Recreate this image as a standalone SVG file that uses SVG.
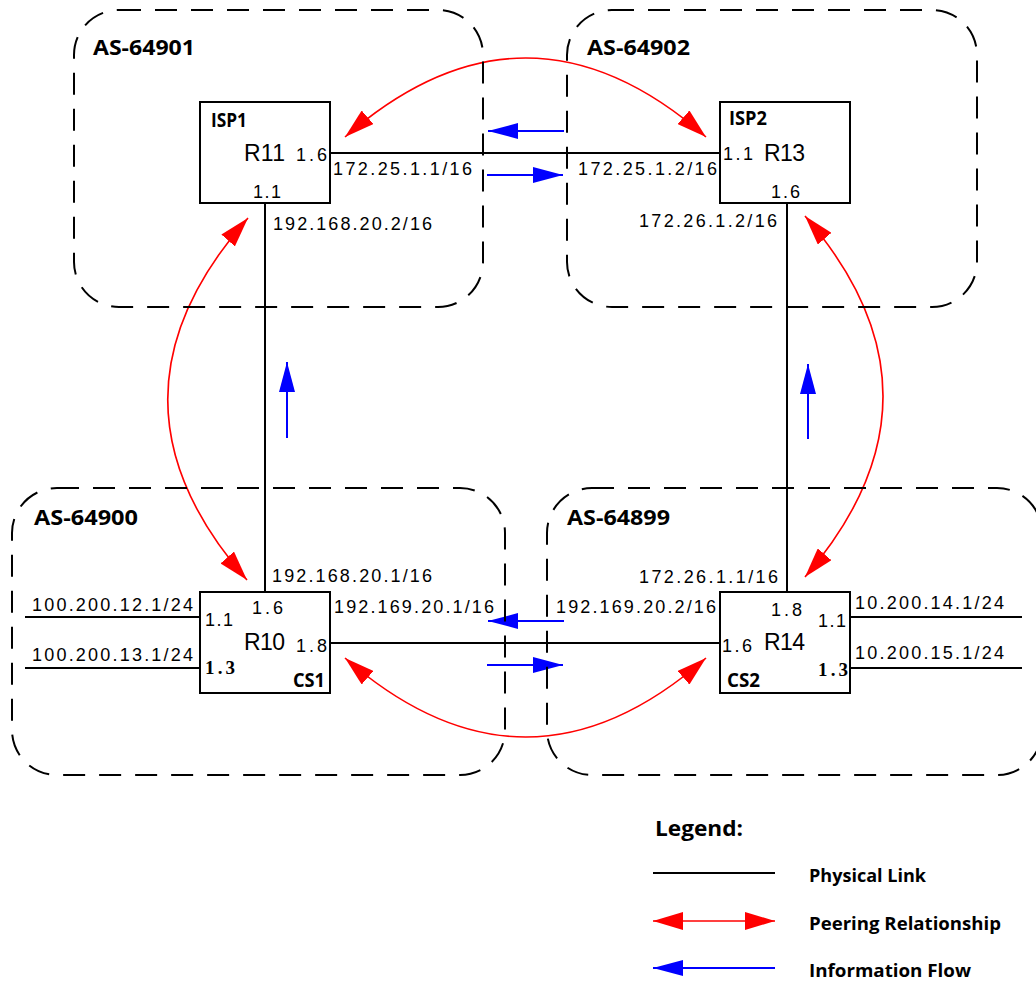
<svg xmlns="http://www.w3.org/2000/svg" width="1036" height="984" viewBox="0 0 1036 984">
<style>
.region{fill:none;stroke:#000;stroke-width:2;stroke-dasharray:22 14}
.box{fill:#fff;stroke:#000;stroke-width:2}
.link{fill:none;stroke:#000;stroke-width:2}
.peer{fill:none;stroke:#f00;stroke-width:1.6}
.flow{fill:none;stroke:#00f;stroke-width:2}
.lbl{font-family:"Liberation Sans",Arial,sans-serif;font-size:18px;fill:#000}
.rn{font-family:"Liberation Sans",Arial,sans-serif;font-size:23px;fill:#000}
.b{font-family:"Open Sans","DejaVu Sans",sans-serif;font-weight:700;fill:#000}
.srf{font-family:"Liberation Serif","Times New Roman",serif;font-weight:700;font-size:19px;fill:#000}
</style>
<defs>
<marker id="rh" viewBox="0 0 30 18" refX="30" refY="9" markerWidth="30" markerHeight="18" markerUnits="userSpaceOnUse" orient="auto-start-reverse"><path d="M0,0 L30,9 L0,18 z" fill="#f00"/></marker>
<marker id="bh" viewBox="0 0 30 16" refX="30" refY="8" markerWidth="30" markerHeight="16" markerUnits="userSpaceOnUse" orient="auto-start-reverse"><path d="M0,0 L30,8 L0,16 z" fill="#00f"/></marker>
</defs>
<rect width="1036" height="984" fill="#fff"/>

<g id="connectors">
<line class="link" x1="330" y1="153" x2="720" y2="153"/>
<line class="link" x1="265" y1="203" x2="265" y2="592"/>
<line class="link" x1="787" y1="203" x2="787" y2="592"/>
<line class="link" x1="330" y1="643" x2="720" y2="643"/>
<line class="link" x1="25" y1="617" x2="200" y2="617"/>
<line class="link" x1="25" y1="668" x2="200" y2="668"/>
<line class="link" x1="850" y1="617" x2="1022" y2="617"/>
<line class="link" x1="850" y1="668" x2="1022" y2="668"/>
<path class="peer" d="M345,137 Q526,-21 706,137" marker-start="url(#rh)" marker-end="url(#rh)"/>
<path class="peer" d="M248,218 Q88,399 247,580" marker-start="url(#rh)" marker-end="url(#rh)"/>
<path class="peer" d="M805,216 Q961,396 805,577" marker-start="url(#rh)" marker-end="url(#rh)"/>
<path class="peer" d="M345,658 Q526,816 706,658" marker-start="url(#rh)" marker-end="url(#rh)"/>
<line class="flow" x1="564" y1="131" x2="488" y2="131" marker-end="url(#bh)"/>
<line class="flow" x1="487" y1="175" x2="563" y2="175" marker-end="url(#bh)"/>
<line class="flow" x1="564" y1="621" x2="488" y2="621" marker-end="url(#bh)"/>
<line class="flow" x1="487" y1="665" x2="563" y2="665" marker-end="url(#bh)"/>
<line class="flow" x1="287" y1="438" x2="287" y2="362" marker-end="url(#bh)"/>
<line class="flow" x1="808" y1="439" x2="808" y2="364" marker-end="url(#bh)"/>
<text class="lbl" x="333" y="175" textLength="139" lengthAdjust="spacing">172.25.1.1/16</text>
<text class="lbl" x="578" y="175" textLength="139" lengthAdjust="spacing">172.25.1.2/16</text>
<text class="lbl" x="273" y="230" textLength="159" lengthAdjust="spacing">192.168.20.2/16</text>
<text class="lbl" x="639" y="227" textLength="138" lengthAdjust="spacing">172.26.1.2/16</text>
<text class="lbl" x="272" y="582" textLength="160" lengthAdjust="spacing">192.168.20.1/16</text>
<text class="lbl" x="334" y="613" textLength="160" lengthAdjust="spacing">192.169.20.1/16</text>
<text class="lbl" x="639" y="583" textLength="139" lengthAdjust="spacing">172.26.1.1/16</text>
<text class="lbl" x="556" y="613" textLength="160" lengthAdjust="spacing">192.169.20.2/16</text>
<text class="lbl" x="32" y="611" textLength="161" lengthAdjust="spacing">100.200.12.1/24</text>
<text class="lbl" x="32" y="661" textLength="161" lengthAdjust="spacing">100.200.13.1/24</text>
<text class="lbl" x="855" y="609" textLength="149" lengthAdjust="spacing">10.200.14.1/24</text>
<text class="lbl" x="855" y="659" textLength="149" lengthAdjust="spacing">10.200.15.1/24</text>
</g>

<g id="R11">
<rect class="box" x="200" y="102" width="130" height="101"/>
<text class="b" x="211" y="127" font-size="20" textLength="36" lengthAdjust="spacingAndGlyphs">ISP1</text>
<text class="rn" x="244" y="161" textLength="41" lengthAdjust="spacing">R11</text>
<text class="lbl" x="296" y="161" textLength="31" lengthAdjust="spacing">1.6</text>
<text class="lbl" x="253" y="198" textLength="28" lengthAdjust="spacing">1.1</text>
</g>

<g id="R13">
<rect class="box" x="720" y="102" width="130" height="101"/>
<text class="b" x="729" y="125" font-size="20" textLength="38" lengthAdjust="spacingAndGlyphs">ISP2</text>
<text class="lbl" x="723" y="160" textLength="30" lengthAdjust="spacing">1.1</text>
<text class="rn" x="764" y="161" textLength="41" lengthAdjust="spacing">R13</text>
<text class="lbl" x="771" y="198" textLength="29" lengthAdjust="spacing">1.6</text>
</g>

<g id="R10">
<rect class="box" x="200" y="592" width="130" height="101"/>
<text class="lbl" x="252" y="614" textLength="31" lengthAdjust="spacing">1.6</text>
<text class="lbl" x="205" y="626" textLength="28" lengthAdjust="spacing">1.1</text>
<text class="rn" x="244" y="650" textLength="41" lengthAdjust="spacing">R10</text>
<text class="lbl" x="296" y="652" textLength="31" lengthAdjust="spacing">1.8</text>
<text class="srf" x="205" y="674" textLength="30" lengthAdjust="spacing">1.3</text>
<text class="b" x="293" y="687" font-size="19" textLength="32" lengthAdjust="spacingAndGlyphs">CS1</text>
</g>

<g id="R14">
<rect class="box" x="720" y="592" width="130" height="101"/>
<text class="lbl" x="771" y="616" textLength="31" lengthAdjust="spacing">1.8</text>
<text class="lbl" x="818" y="627" textLength="28" lengthAdjust="spacing">1.1</text>
<text class="lbl" x="722" y="652" textLength="30" lengthAdjust="spacing">1.6</text>
<text class="rn" x="764" y="650" textLength="41" lengthAdjust="spacing">R14</text>
<text class="srf" x="818" y="676" textLength="30" lengthAdjust="spacing">1.3</text>
<text class="b" x="727" y="687" font-size="19" textLength="33" lengthAdjust="spacingAndGlyphs">CS2</text>
</g>

<g id="AS-64901">
<rect class="region" x="74" y="10" width="409" height="297" rx="45" ry="45"/>
<text class="b" x="93" y="55" font-size="22" textLength="102" lengthAdjust="spacingAndGlyphs">AS-64901</text>
</g>
<g id="AS-64902">
<rect class="region" x="567" y="10" width="410" height="297" rx="45" ry="45"/>
<text class="b" x="587" y="55" font-size="22" textLength="103" lengthAdjust="spacingAndGlyphs">AS-64902</text>
</g>
<g id="AS-64900">
<rect class="region" x="12" y="488" width="493" height="287" rx="45" ry="45"/>
<text class="b" x="34" y="525" font-size="22" textLength="104" lengthAdjust="spacingAndGlyphs">AS-64900</text>
</g>
<g id="AS-64899">
<rect class="region" x="547" y="488" width="495" height="287" rx="45" ry="45"/>
<text class="b" x="567" y="525" font-size="22" textLength="103" lengthAdjust="spacingAndGlyphs">AS-64899</text>
</g>

<g id="legend">
<text class="b" x="655" y="836" font-size="21" textLength="88" lengthAdjust="spacingAndGlyphs">Legend:</text>
<line class="link" x1="653" y1="873" x2="775" y2="873"/>
<text class="b" x="809" y="882" font-size="18" textLength="117" lengthAdjust="spacingAndGlyphs">Physical Link</text>
<line class="peer" x1="653" y1="921" x2="775" y2="921" stroke-width="2" marker-start="url(#rh)" marker-end="url(#rh)"/>
<text class="b" x="809" y="930" font-size="18" textLength="192" lengthAdjust="spacingAndGlyphs">Peering Relationship</text>
<line class="flow" x1="775" y1="968" x2="653" y2="968" marker-end="url(#bh)"/>
<text class="b" x="809" y="977" font-size="18" textLength="162" lengthAdjust="spacingAndGlyphs">Information Flow</text>
</g>
</svg>
